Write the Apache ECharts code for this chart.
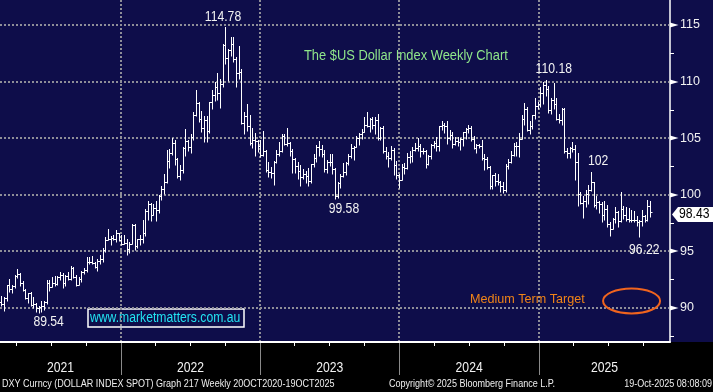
<!DOCTYPE html>
<html>
<head>
<meta charset="utf-8">
<script src="https://cdn.jsdelivr.net/npm/echarts@6.0.0/dist/echarts.min.js"></script>
<style>
html,body{margin:0;padding:0;background:#000;}
#c{width:713px;height:392px;background:linear-gradient(to bottom,#0e0d4a 0,#0e0d4a 342px,#000 342px,#000 100%);}
</style>
</head>
<body>
<div id="c"></div>
<script>
// ---------- DATA (weekly OHLC: [open, high, low, close]) ----------
// first bar = week ending Sun 14-Feb-2021, one bar per week
const firstWeekEnding = [2021, 1, 14];

const bars2021 = [
[90.98,91.05,90.30,90.48],[90.48,91.05,90.13,90.36],[90.36,90.95,89.68,90.88],[90.88,92.05,90.62,91.98],
[91.98,92.51,91.38,91.67],[91.67,92.01,91.30,91.92],[91.92,92.86,91.75,92.77],[92.77,93.44,92.61,92.95],
[92.95,93.04,91.91,92.16],[92.16,92.40,91.51,91.56],[91.56,91.70,90.80,90.85],[90.85,91.34,90.42,91.28],
[91.28,91.42,90.15,90.22],[90.22,90.96,89.98,90.32],[90.32,90.38,89.64,90.01],[90.01,90.15,89.54,90.03],
[90.03,90.63,89.66,90.13],[90.13,90.59,89.80,90.55],[90.55,92.41,90.33,92.23],[92.23,92.41,91.51,91.85],
[91.85,92.74,91.80,92.23],[92.23,92.84,91.96,92.12],[92.12,92.83,92.02,92.69],[92.69,93.19,92.48,92.90],
[92.90,93.03,91.78,92.17],[92.17,92.88,91.95,92.80],[92.80,93.20,92.47,92.52],[92.52,93.73,92.49,93.50],
[93.50,93.58,92.66,92.68],[92.68,92.92,91.94,92.03],[92.03,92.71,91.97,92.58],[92.58,93.28,92.28,93.20],
[93.20,93.52,92.98,93.33],[93.33,94.50,93.17,94.04],[94.04,94.45,93.87,94.08],[94.08,94.56,93.83,93.96],
[93.96,94.00,93.49,93.64],[93.64,94.30,93.28,94.12],[94.12,94.64,93.87,94.32],[94.32,95.27,94.02,95.13],
[95.13,96.24,94.95,96.03],[96.03,96.94,95.96,96.09],[96.09,96.34,95.52,96.15],[96.15,96.44,95.97,96.08],
[96.08,96.91,95.85,96.59],[96.59,96.63,95.92,96.02],[96.02,96.43,95.57,95.67]
];
const bars2022 = [
[95.67,96.46,95.60,95.73],[95.73,96.08,94.63,95.17],[95.17,95.83,94.80,95.64],[95.64,97.44,95.61,97.28],
[97.28,97.37,95.14,95.48],[95.48,96.12,95.29,96.08],[96.08,96.43,95.52,96.04],[96.04,97.74,95.69,96.62],
[96.62,98.72,96.34,98.51],[98.51,99.42,97.72,99.13],[99.13,99.29,97.71,98.23],[98.23,99.16,98.16,98.79],
[98.79,99.42,97.69,98.62],[98.62,99.94,98.40,99.84],[99.84,100.77,99.57,100.50],[100.50,101.86,100.03,101.13],
[101.13,103.93,101.00,103.00],[103.00,104.07,102.35,103.66],[103.66,105.01,103.51,104.56],[104.56,104.85,102.65,103.19],
[103.19,103.22,101.43,101.67],[101.67,102.65,101.30,102.15],[102.15,104.24,101.95,104.15],[104.15,105.79,103.41,104.70],
[104.70,104.81,103.86,104.19],[104.19,105.40,103.67,105.14],[105.14,107.27,104.85,107.01],[107.01,109.29,106.94,108.07],
[108.07,108.18,106.38,106.73],[106.73,107.43,105.54,105.85],[105.85,106.93,104.64,106.62],[106.62,106.93,104.64,105.65],
[105.65,108.20,105.49,108.16],[108.16,109.27,107.55,108.79],[108.79,109.99,108.29,109.54],[109.54,110.79,108.36,109.00],
[109.00,110.23,107.68,109.77],[109.77,113.33,109.50,113.19],[113.19,114.78,111.57,112.12],[112.12,112.89,110.05,112.79],
[112.79,113.94,112.22,113.31],[113.31,113.90,111.72,111.99],[111.99,112.13,109.54,110.75],[110.75,113.15,110.26,110.81],
[110.81,111.12,106.28,106.30],[106.30,107.27,105.34,106.98],[106.98,107.99,105.64,106.05],[106.05,107.00,104.37,104.55],
[104.55,105.91,104.11,104.85],[104.85,105.45,103.44,104.71],[104.71,104.82,103.81,104.32],[104.32,104.84,103.37,103.52]
];
const bars2023 = [
[103.52,105.63,103.38,103.89],[103.89,103.95,101.99,102.20],[102.20,102.90,101.53,102.01],[102.01,102.40,101.50,101.92],
[101.92,103.00,100.82,102.92],[102.92,103.96,102.80,103.63],[103.63,104.67,103.42,103.86],[103.86,105.36,103.81,105.21],
[105.21,105.33,104.35,104.52],[104.52,105.88,104.30,104.58],[104.58,104.67,103.44,103.86],[103.86,104.05,101.92,103.13],
[103.13,103.23,101.93,102.51],[102.51,102.90,101.41,102.08],[102.08,102.62,100.78,101.55],[101.55,102.30,101.40,101.83],
[101.83,102.13,101.01,101.66],[101.66,102.38,100.79,101.22],[101.22,102.75,101.04,102.68],[102.68,103.62,102.46,103.20],
[103.20,104.42,102.92,104.23],[104.23,104.70,103.39,104.03],[104.03,104.40,103.36,103.56],[103.56,103.96,101.97,102.26],
[102.26,103.03,101.92,102.90],[102.90,103.55,102.50,102.91],[102.91,103.57,101.80,102.27],[102.27,102.36,99.58,99.91],
[99.91,101.15,99.74,101.07],[101.07,101.84,100.55,101.63],[101.63,102.84,101.55,101.99],[101.99,102.86,101.74,102.84],
[102.84,103.59,102.62,103.38],[103.38,104.44,103.24,104.15],[104.15,104.30,103.02,104.25],[104.25,105.16,104.19,105.05],
[105.05,105.42,104.42,105.32],[105.32,105.78,104.96,105.58],[105.58,106.84,105.53,106.17],[106.17,107.35,106.02,106.04],
[106.04,106.78,105.53,106.65],[106.65,106.89,105.78,106.16],[106.16,106.89,105.35,106.56],[106.56,107.11,104.85,105.02],
[105.02,106.00,104.86,105.86],[105.86,106.03,103.72,103.89],[103.89,104.21,103.17,103.44],[103.44,103.74,102.46,103.27],
[103.27,104.26,103.10,103.99],[103.99,104.15,101.77,102.63],[102.63,102.99,101.42,101.71],[101.71,101.83,100.62,101.33]
];
const bars2024 = [
[101.33,102.73,101.26,102.41],[102.41,102.79,101.86,102.39],[102.39,103.69,102.23,103.29],[103.29,103.82,102.76,103.44],
[103.44,104.23,102.85,103.92],[103.92,104.60,103.84,104.10],[104.10,104.97,103.86,104.29],[104.29,104.44,103.37,103.88],
[103.88,104.16,103.60,103.86],[103.86,103.99,102.34,102.71],[102.71,103.51,102.62,103.43],[103.43,104.51,103.15,104.43],
[104.43,104.73,104.12,104.55],[104.55,105.10,103.89,104.30],[104.30,106.11,103.88,106.04],[106.04,106.52,105.69,106.15],
[106.15,106.37,105.46,106.06],[106.06,106.49,104.52,105.03],[105.03,105.74,104.83,105.30],[105.30,105.54,104.08,104.45],
[104.45,105.12,104.38,104.72],[104.72,105.12,104.34,104.67],[104.67,105.00,103.99,104.89],[104.89,105.57,104.27,105.55],
[105.55,105.91,104.94,105.80],[105.80,106.13,105.42,105.87],[105.87,106.08,104.77,104.88],[104.88,105.17,104.06,104.09],
[104.09,104.46,103.65,104.40],[104.40,104.52,104.08,104.32],[104.32,104.79,103.05,103.21],[103.21,103.55,102.16,103.14],
[103.14,103.37,102.23,102.40],[102.40,102.50,100.53,100.72],[100.72,101.78,100.51,101.70],[101.70,101.93,100.74,101.18],
[101.18,101.80,100.82,101.11],[101.11,101.24,100.21,100.72],[100.72,101.14,100.16,100.38],[100.38,102.69,100.20,102.52],
[102.52,103.17,102.31,102.92],[102.92,103.87,102.80,103.49],[103.49,104.57,103.39,104.26],[104.26,104.63,103.38,104.28],
[104.28,105.44,103.37,104.95],[104.95,107.07,104.93,106.69],[106.69,108.07,106.14,107.55],[107.55,107.76,105.63,105.74],
[105.74,106.51,105.39,106.06],[106.06,107.04,105.84,107.00],[107.00,108.54,106.65,107.82],[107.82,108.16,107.55,108.00]
];
const bars2025 = [
[108.00,109.54,107.78,108.95],[108.95,109.96,108.00,109.65],[109.65,110.18,108.73,109.35],[109.35,109.60,107.25,107.44],
[107.44,108.53,107.10,108.37],[108.37,109.88,107.55,108.04],[108.04,108.52,106.56,106.71],[106.71,107.14,106.33,106.62],
[106.62,107.68,106.12,107.56],[107.56,107.65,103.69,103.84],[103.84,104.16,103.20,103.72],[103.72,104.20,103.21,104.09],
[104.09,104.68,103.78,104.04],[104.04,104.42,101.26,102.90],[102.90,103.66,99.01,100.10],[100.10,100.27,99.16,99.23],
[99.23,99.92,97.92,99.47],[99.47,100.38,98.94,100.03],[100.03,100.86,99.17,100.42],[100.42,102.00,100.30,101.09],
[101.09,101.11,98.95,99.11],[99.11,99.92,98.69,99.33],[99.33,99.44,98.35,99.19],[99.19,99.39,97.60,98.18],
[98.18,99.42,97.77,98.71],[98.71,99.09,97.14,97.40],[97.40,97.60,96.38,96.97],[96.97,97.94,96.94,97.85],
[97.85,98.95,97.45,98.48],[98.48,98.56,97.11,97.65],[97.65,100.26,97.60,98.69],[98.69,99.00,97.84,98.18],
[98.18,98.92,97.63,97.85],[97.85,98.84,97.55,97.72],[97.72,98.64,97.55,97.77],[97.77,98.56,97.57,97.73],
[97.73,98.12,97.24,97.55],[97.55,97.75,96.22,97.64],[97.64,98.60,97.20,98.15],[98.15,98.20,97.58,97.72],
[97.72,99.56,97.70,98.99],[98.99,99.40,97.98,98.43]
];

const yearTicks = ['2021', '2022', '2023', '2024', '2025'];
const yLabels = [90, 95, 100, 105, 110, 115];
const yMinorTicks = [87.5, 92.5, 97.5, 102.5, 107.5, 112.5];
const lastPrice = 98.43;

const noteText  = ['114.78', '110.18', '102', '99.58', '89.54', '96.22'];
const noteDate  = ['2022-10-02', '2025-01-19', '2025-05-18', '2023-07-16', '2021-05-30', '2025-09-21'];
const noteValue = [114.78, 110.18, 102.0, 99.58, 89.54, 96.22];

const targetText = 'Medium Term Target';
const targetDate = '2024-07-04';
const targetValue = 90.77;
const targetCircleDate = '2025-09-01';
const targetCircleValue = 90.6;

const chartTitle = 'The $US Dollar Index Weekly Chart';
const siteText = 'www.marketmatters.com.au';
const footerLeft = 'DXY Curncy (DOLLAR INDEX SPOT) Graph 217 Weekly 20OCT2020-19OCT2025';
const footerMid = 'Copyright\u00A9 2025 Bloomberg Finance L.P.';
const footerRight = '19-Oct-2025 08:08:09';

// ---------- STYLE ----------
const noteOffset = [[-2.5, -10.5], [8, -10.5], [7, -10.5], [9, 9.6], [10, 9], [5, 13]];
const FONT = '"Liberation Sans", Arial, sans-serif';
const GRID_COLOR = '#8e8e98';
const TEXT_WHITE = '#f2f2f2';

function d(s) { const p = s.split('-').map(Number); return new Date(p[0], p[1] - 1, p[2]).getTime(); }

function txt(text, x, y, size, sx, fill, align) {
  return { type: 'text', x: x, y: y, scaleX: sx,
    style: { text: text, x: 0, y: 0, align: align || 'left', verticalAlign: 'middle', fill: fill, font: size + 'px ' + FONT } };
}

const xMin = new Date(2021, 1, 17, 16).getTime();
const xMax = new Date(2025, 11, 10, 19).getTime();
const yMin = 86.97, yMax = 117.21;

const allBars = [].concat(bars2021, bars2022, bars2023, bars2024, bars2025);
const ohlc = allBars.map((b, i) => [
  new Date(firstWeekEnding[0], firstWeekEnding[1], firstWeekEnding[2] + 7 * i).getTime(),
  b[0], b[1], b[2], b[3]
]);

function renderBar(params, api) {
  const t = api.value(0);
  const po = api.coord([t, api.value(1)]);
  const ph = api.coord([t, api.value(2)]);
  const pl = api.coord([t, api.value(3)]);
  const pc = api.coord([t, api.value(4)]);
  const x = Math.round(po[0]) + 0.5;
  const yo = Math.round(po[1]) + 0.5, yc = Math.round(pc[1]) + 0.5;
  const yh = Math.round(ph[1]), yl = Math.max(Math.round(pl[1]), yh + 1);
  const st = { stroke: '#ffffff', lineWidth: 1 };
  return { type: 'group', children: [
    { type: 'line', shape: { x1: x, y1: yh, x2: x, y2: yl + 0.5 }, style: st },
    { type: 'line', shape: { x1: x - 2, y1: yo, x2: x, y2: yo }, style: st },
    { type: 'line', shape: { x1: x, y1: yc, x2: x + 2, y2: yc }, style: st }
  ]};
}

function renderDecor(params, api) {
  const ch = [];
  const bl = api.coord([xMin, yMin]), tr = api.coord([xMax, yMax]);
  const left = bl[0], bottom = Math.round(bl[1]), right = Math.round(tr[0]), top = tr[1];
  yLabels.forEach(v => {
    const y = Math.round(api.coord([xMin, v])[1]);
    ch.push({ type: 'line', shape: { x1: left, y1: y, x2: right - 1, y2: y },
      style: { stroke: GRID_COLOR, lineWidth: 2, lineDash: [2, 2] } });
    ch.push({ type: 'polygon', shape: { points: [[right, y - 2.5], [right + 8.5, y], [right, y + 2.5]] },
      style: { fill: '#ffffff' } });
  });
  for (let yr = 2022; yr <= 2025; yr++) {
    const x = Math.round(api.coord([new Date(yr, 0, 1).getTime(), yMin])[0]);
    ch.push({ type: 'line', shape: { x1: x, y1: top, x2: x, y2: bottom - 1 },
      style: { stroke: GRID_COLOR, lineWidth: 2, lineDash: [2, 2] } });
    ch.push({ type: 'line', shape: { x1: x + 0.5, y1: bottom + 1, x2: x + 0.5, y2: bottom + 33 },
      style: { stroke: '#8a8a8a', lineWidth: 1 } });
  }
  for (let yr = 2021; yr <= 2025; yr++) {
    [3, 6, 9].forEach(m => {
      const t = new Date(yr, m, 1).getTime();
      if (t <= xMin || t >= xMax) return;
      const x = Math.round(api.coord([t, yMin])[0]) + 0.5;
      ch.push({ type: 'line', shape: { x1: x, y1: bottom, x2: x, y2: bottom + 4 },
        style: { stroke: '#ffffff', lineWidth: 1 } });
    });
  }
  yearTicks.forEach(label => {
    const yr = Number(label);
    const s = Math.max(new Date(yr, 0, 1).getTime(), xMin);
    const e = Math.min(new Date(yr + 1, 0, 1).getTime(), xMax);
    const x = api.coord([(s + e) / 2, yMin])[0];
    ch.push(txt(label, x, bottom + 26, 14.5, 0.84, TEXT_WHITE, 'center'));
  });
  return { type: 'group', children: ch };
}

function renderNotes(params, api) {
  const ch = [];
  noteText.forEach((t, i) => {
    const p = api.coord([d(noteDate[i]), noteValue[i]]);
    ch.push(txt(t, p[0] + noteOffset[i][0], p[1] + noteOffset[i][1], 14, 0.87, TEXT_WHITE, 'center'));
  });
  const tp = api.coord([d(targetDate), targetValue]);
  ch.push(txt(targetText, tp[0], tp[1], 12.6, 1, '#f08418', 'left'));
  const cp = api.coord([d(targetCircleDate), targetCircleValue]);
  ch.push({ type: 'ellipse', shape: { cx: cp[0], cy: cp[1], rx: 28.5, ry: 12.5 },
    style: { stroke: '#f0641e', fill: null, lineWidth: 2 } });
  const right = Math.round(api.coord([xMax, yMin])[0]);
  const yc = api.coord([xMax, lastPrice])[1] + 2;
  const W = api.getWidth();
  ch.push({ type: 'polygon', shape: { points: [[right + 2, yc], [right + 8, yc - 7.5], [W, yc - 7.5], [W, yc + 7.5], [right + 8, yc + 7.5]] },
    style: { fill: '#ffffff' } });
  ch.push(txt(lastPrice.toFixed(2), right + 9, yc, 14, 0.87, '#000000', 'left'));
  return { type: 'group', children: ch };
}

const chart = echarts.init(document.getElementById('c'), null, { renderer: 'canvas' });
chart.setOption({
  animation: false,
  backgroundColor: 'transparent',
  grid: { left: 0, right: 43, top: 0, bottom: 50, show: false },
  xAxis: {
    type: 'time', min: xMin, max: xMax,
    axisLine: { show: true, lineStyle: { color: '#ffffff', width: 2 } },
    axisTick: { show: false }, axisLabel: { show: false }, splitLine: { show: false }
  },
  yAxis: {
    type: 'value', position: 'right', min: yMin, max: yMax, scale: true,
    axisLine: { show: true, lineStyle: { color: '#ffffff', width: 1.5 } },
    axisTick: { show: true, customValues: yMinorTicks, length: 4, lineStyle: { color: '#ffffff', width: 1 } },
    axisLabel: { show: true, customValues: yLabels, margin: 10, color: TEXT_WHITE, fontSize: 12.5, fontFamily: FONT },
    splitLine: { show: false }
  },
  graphic: [
    txt(chartTitle, 304, 56, 14, 0.92, '#8fe68a', 'left'),
    { type: 'rect', shape: { x: 88, y: 309, width: 156, height: 18 }, style: { stroke: '#ffffff', lineWidth: 1.5, fill: null } },
    txt(siteText, 90, 318.5, 14, 0.87, '#22e4f2', 'left'),
    txt(footerLeft, 2, 384.5, 10.7, 0.845, '#eeeeee', 'left'),
    txt(footerMid, 389, 384.5, 10.7, 0.845, '#eeeeee', 'left'),
    txt(footerRight, 712, 384.5, 10.7, 0.845, '#eeeeee', 'right')
  ],
  series: [
    { type: 'custom', name: 'decor', silent: true, clip: false, z: 1, renderItem: renderDecor, data: [[xMin, 100]] },
    { type: 'custom', name: 'DXY', clip: true, z: 5, renderItem: renderBar, data: ohlc,
      encode: { x: 0, y: [1, 2, 3, 4] } },
    { type: 'custom', name: 'notes', silent: true, clip: false, z: 6, renderItem: renderNotes, data: [[xMin, 100]] }
  ]
});
</script>
</body>
</html>
